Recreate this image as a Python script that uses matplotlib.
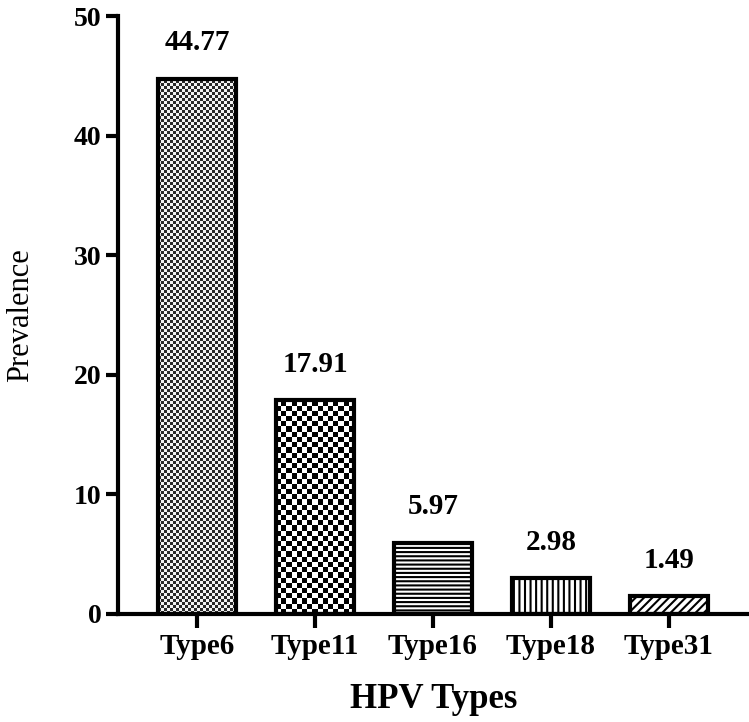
import numpy as np
import matplotlib
matplotlib.use('Agg')
import matplotlib.pyplot as plt
from matplotlib.colors import ListedColormap

types = ['Type6', 'Type11', 'Type16', 'Type18', 'Type31']
prevalence = [44.77, 17.91, 5.97, 2.98, 1.49]

plt.rcParams['font.family'] = 'Liberation Serif'
plt.rcParams['hatch.linewidth'] = 1.5

fig = plt.figure(figsize=(7.49, 7.22), dpi=100)
ax = fig.add_axes([0.1575, 0.1496, 0.8425, 0.8282])

x = np.arange(len(types))
faces = ['none', 'none', 'white', 'white', 'white']
bars = ax.bar(x, prevalence, width=0.66, color=faces, edgecolor='black', linewidth=3, zorder=2)

# fill patterns
hatches = [None, None, '----', '|||', '////']
for b, h in zip(bars, hatches):
    if h:
        b.set_hatch(h)

ax.set_xlim(-0.67, 4.68)
ax.set_ylim(0, 50)


def checker(bar, n_cols, c1, c2):
    x0, y0 = bar.get_x(), bar.get_y()
    w, h = bar.get_width(), bar.get_height()
    px_per_x = ax.transData.transform((1, 0))[0] - ax.transData.transform((0, 0))[0]
    px_per_y = ax.transData.transform((0, 1))[1] - ax.transData.transform((0, 0))[1]
    sq_px = w * px_per_x / n_cols
    n_rows = int(np.ceil(h * px_per_y / sq_px))
    img = (np.indices((n_rows, n_cols)).sum(axis=0) % 2).astype(float)
    im = ax.imshow(img, cmap=ListedColormap([c1, c2]),
                   extent=(x0, x0 + w, y0, y0 + n_rows * sq_px / px_per_y),
                   origin='lower', interpolation='nearest', aspect='auto', zorder=1.5)
    im.set_clip_path(bar)


checker(bars[0], 26, '#f4f4f4', '#2a2a2a')
checker(bars[1], 15, '#ffffff', '#000000')
ax.set_xlim(-0.67, 4.68)
ax.set_ylim(0, 50)

for xi, v in zip(x, prevalence):
    ax.annotate(f'{v:.2f}', (xi, v), xytext=(0, 16), textcoords='offset points',
                ha='center', va='bottom', fontsize=21, fontweight='bold')

ax.set_yticks([0, 10, 20, 30, 40, 50])
ax.set_xticks(x)
ax.set_xticklabels(types, fontsize=21, fontweight='bold')
for lab in ax.get_yticklabels():
    lab.set_fontsize(20)
    lab.set_fontweight('bold')
ax.tick_params(axis='y', length=9, width=3, pad=3)
ax.tick_params(axis='x', length=10, width=3, pad=4)

ax.spines['top'].set_visible(False)
ax.spines['right'].set_visible(False)
ax.spines['left'].set_linewidth(3)
ax.spines['bottom'].set_linewidth(3)

ax.set_xlabel('HPV Types', fontsize=25, fontweight='bold', labelpad=16)
ax.set_ylabel('Prevalence', fontsize=22, labelpad=28)

fig.savefig('out.png', dpi=100)
